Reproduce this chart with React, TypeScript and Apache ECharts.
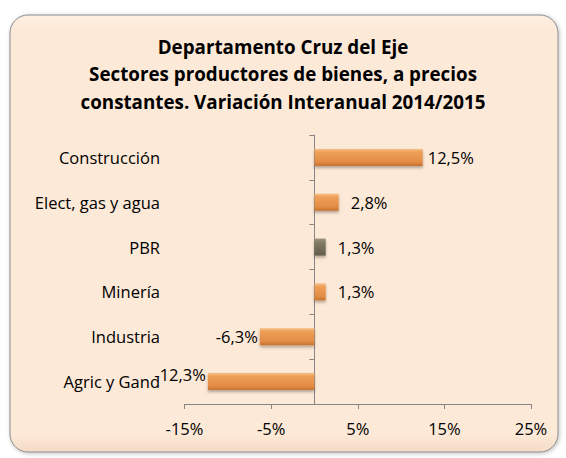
import React, { useEffect, useRef } from "react";
import * as echarts from "echarts";

const categories = ["Agric y Gand", "Industria", "Minería", "PBR", "Elect, gas y agua", "Construcción"];
const values = [-12.3, -6.3, 1.3, 1.3, 2.8, 12.5];
const highlightCategory = "PBR";
const xTicks = [-15, -5, 5, 15, 25];
const titleLines = [
  "Departamento Cruz del Eje",
  "Sectores productores de bienes, a precios",
  "constantes. Variación Interanual 2014/2015",
];

const FONT = "'Open Sans', sans-serif";

const orangeGrad = new echarts.graphic.LinearGradient(0, 0, 0, 1, [
  { offset: 0, color: "#F8BD82" },
  { offset: 0.2, color: "#EE9F57" },
  { offset: 0.75, color: "#E38D45" },
  { offset: 1, color: "#C8732F" },
]);
const grayGrad = new echarts.graphic.LinearGradient(0, 0, 0, 1, [
  { offset: 0, color: "#9A937C" },
  { offset: 0.3, color: "#7E7862" },
  { offset: 1, color: "#625D4B" },
]);

const fmt = (v: number) => v.toFixed(1).replace(".", ",") + "%";

export default function App() {
  const ref = useRef<HTMLDivElement>(null);
  useEffect(() => {
    document.body.style.margin = "0";
    const chart = echarts.init(ref.current!, null, { renderer: "svg" });
    const data = values.map((v, i) => {
      const isNeg = v < 0;
      const isHl = categories[i] === highlightCategory;
      return {
        value: v,
        itemStyle: {
          color: isHl ? grayGrad : orangeGrad,
          shadowColor: "rgba(0,0,0,0.3)",
          shadowBlur: 3,
          shadowOffsetY: 2,
        },
        label: {
          show: true,
          position: isNeg ? "left" : "right",
          distance: v > 10 ? 5 : isNeg ? 2 : 12,
          offset: i === 0 ? [0, -7] : [0, 0],
        },
      };
    });
    chart.setOption({
      animation: false,
      backgroundColor: "#ffffff",
      graphic: [
        {
          type: "rect",
          shape: { x: 10, y: 15, width: 548, height: 437, r: 18 },
          style: {
            fill: new echarts.graphic.LinearGradient(0, 0, 0, 1, [
              { offset: 0, color: "#FEEFE2" },
              { offset: 0.04, color: "#FDE9D7" },
              { offset: 0.96, color: "#FDE9D7" },
              { offset: 1, color: "#F4DCC6" },
            ]),
            stroke: "#8C8C8C",
            lineWidth: 1,
            shadowColor: "rgba(0,0,0,0.25)",
            shadowBlur: 4,
            shadowOffsetX: 1,
            shadowOffsetY: 1,
          },
          z: -10,
        },
        {
          type: "text",
          x: 283,
          y: 33,
          style: {
            text: titleLines.join("\n"),
            font: `bold 18.8px ${FONT}`,
            fill: "#000",
            textAlign: "center",
            lineHeight: 27.5,
          },
        },
      ],
      grid: { left: 184.5, right: 35, top: 135, bottom: 54, containLabel: false, outerBoundsMode: "none" },
      xAxis: {
        type: "value",
        min: -15,
        max: 25,
        interval: 10,
        splitLine: { show: false },
        axisLine: { show: true, lineStyle: { color: "#868686" } },
        axisTick: { show: true, length: 5, lineStyle: { color: "#868686" } },
        axisLabel: {
          margin: 16,
          color: "#000",
          fontSize: 16.5,
          fontFamily: FONT,
          formatter: (v: number) => (xTicks.includes(v) ? v + "%" : ""),
        },
      },
      yAxis: {
        type: "category",
        data: categories,
        axisLine: { show: true, onZero: true, lineStyle: { color: "#868686" } },
        axisTick: { show: true, length: 5, lineStyle: { color: "#868686" } },
        axisLabel: { margin: 24.5, color: "#000", fontSize: 16.5, fontFamily: FONT },
      },
      series: [
        {
          type: "bar",
          data,
          barWidth: "38%",
          label: {
            color: "#000",
            fontSize: 16.5,
            fontFamily: FONT,
            formatter: (p: any) => fmt(p.value),
          },
        },
      ],
    });
    return () => chart.dispose();
  }, []);
  return <div ref={ref} style={{ width: 566, height: 458 }} />;
}
